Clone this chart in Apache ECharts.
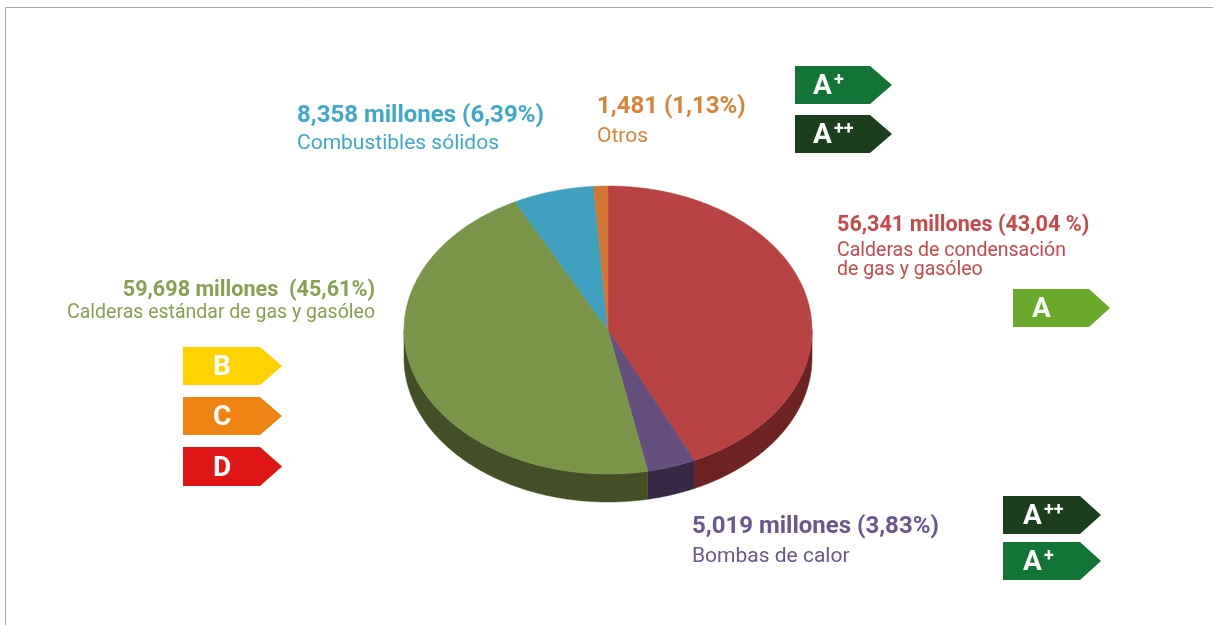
<!DOCTYPE html>
<html><head><meta charset="utf-8">
<script src="https://cdn.jsdelivr.net/npm/echarts@6/dist/echarts.min.js"></script>
<style>html,body{margin:0;padding:0;background:#fff}#c{width:1213px;height:625px}</style>
</head><body><div id="c"></div>
<script>
// ---- data ----
const categories = ['Calderas de condensación de gas y gasóleo', 'Bombas de calor', 'Calderas estándar de gas y gasóleo', 'Combustibles sólidos', 'Otros'];
const values = [56341, 5019, 59698, 8358, 1481];
const valueLabels = ['56,341 millones (43,04 %)', '5,019 millones (3,83%)', '59,698 millones  (45,61%)', '8,358 millones (6,39%)', '1,481 (1,13%)'];
const nameLabels = ['Calderas de condensación\nde gas y gasóleo', 'Bombas de calor', 'Calderas estándar de gas y gasóleo', 'Combustibles sólidos', 'Otros'];
const tagLetters = ['A', 'A', 'A', 'A', 'A', 'B', 'C', 'D'];
const tagSups = ['+', '++', '', '++', '+', '', '', ''];

// ---- styles / layout ----
const topColors = ['#B94343', '#644F7F', '#7A9448', '#3FA0BF', '#D27632'];
const sideColors = ['#6E2323', '#382846', '#435026', '#25657A', '#8A4A1E'];
const textColors = ['#C9484A', '#6B578F', '#87A152', '#3FA8CB', '#DA8338'];
const labelPos = [ // [x, yValue, yName, align, valueSize, nameSize]
  [837, 226, 261, 'left', 21.6, 19.5],
  [692, 527, 557, 'left', 24, 21],
  [375, 291, 313, 'right', 21.6, 19.5],
  [297, 116, 144, 'left', 24, 21],
  [597, 107, 137, 'left', 24, 21]
];
const tagBoxes = [ // [left, top, bottom, rectRight, tip, color, letterX]
  [795, 66, 104, 870, 892, '#127535', 813],
  [795, 115, 153, 870, 892, '#1B3F1C', 813],
  [1013, 289, 327, 1089, 1110, '#6AAA2A', 1032],
  [1003, 496, 534, 1080, 1101, '#1B3F1C', 1023],
  [1003, 542, 580, 1080, 1101, '#127535', 1023],
  [183, 347, 385, 260, 282, '#FFD200', 213],
  [183, 397, 435, 260, 282, '#F08412', 213],
  [183, 447, 486, 260, 282, '#DF1616', 213]
];

const CX = 608, CY = 330, RX = 204, RY = 144, DEPTH = 28;
const total = values.reduce((a, b) => a + b, 0);
const starts = [];
let acc = 0;
values.forEach(v => { starts.push(acc / total * 2 * Math.PI); acc += v; });
function pt(t, dy) { return [CX + RX * Math.sin(t), CY - RY * Math.cos(t) + dy]; }

function renderItem(params, api) {
  const i = params.dataIndex;
  const v = api.value(0);
  const a0 = starts[i], a1 = a0 + v / total * 2 * Math.PI;
  const children = [];
  const s0 = Math.max(a0, Math.PI / 2), s1 = Math.min(a1, 1.5 * Math.PI);
  if (s1 > s0) {
    const pts = [];
    const n = Math.max(2, Math.ceil((s1 - s0) / 0.01));
    for (let k = 0; k <= n; k++) pts.push(pt(s0 + (s1 - s0) * k / n, 0));
    for (let k = n; k >= 0; k--) pts.push(pt(s0 + (s1 - s0) * k / n, DEPTH));
    children.push({ type: 'polygon', shape: { points: pts }, style: { fill: sideColors[i], stroke: sideColors[i], lineWidth: 0.5 } });
  }
  const top = [[CX, CY]];
  const n2 = Math.max(2, Math.ceil((a1 - a0) / 0.01));
  for (let k = 0; k <= n2; k++) top.push(pt(a0 + (a1 - a0) * k / n2, 0));
  children.push({ type: 'polygon', shape: { points: top }, style: { fill: topColors[i], stroke: topColors[i], lineWidth: 0.5 }, z2: 5 });
  return { type: 'group', children };
}

const graphics = [];
// frame
graphics.push({ type: 'polyline', shape: { points: [[5.5, 625], [5.5, 7.5], [1213, 7.5]] }, style: { stroke: '#A8A8A8', lineWidth: 1, fill: null } });
// labels
labelPos.forEach((p, i) => {
  graphics.push({ type: 'text', x: p[0], y: p[1], style: { text: valueLabels[i], fill: textColors[i], font: 'bold ' + p[4] + 'px Roboto', align: p[3], verticalAlign: 'middle', textAlign: p[3], textVerticalAlign: 'middle' } });
  graphics.push({ type: 'text', x: p[0], y: p[2], style: { text: nameLabels[i], fill: textColors[i], font: p[5] + 'px Roboto', lineHeight: 19, align: p[3], verticalAlign: 'middle', textAlign: p[3], textVerticalAlign: 'middle' } });
});
// energy tags
tagBoxes.forEach((b, i) => {
  const mid = (b[1] + b[2]) / 2;
  graphics.push({ type: 'polygon', shape: { points: [[b[0], b[1]], [b[3], b[1]], [b[4], mid], [b[3], b[2]], [b[0], b[2]]] }, style: { fill: b[5] } });
  graphics.push({ type: 'text', x: b[6], y: mid + 2, style: { text: tagLetters[i], fill: '#fff', font: 'bold 28px Roboto', align: 'left', verticalAlign: 'middle', textAlign: 'left', textVerticalAlign: 'middle' } });
  if (tagSups[i]) {
    graphics.push({ type: 'text', x: b[6] + 21, y: mid - 5, style: { text: tagSups[i], fill: '#fff', font: 'bold 18px Roboto', align: 'left', verticalAlign: 'middle', textAlign: 'left', textVerticalAlign: 'middle' } });
  }
});

const chart = echarts.init(document.getElementById('c'), null, { renderer: 'canvas' });
chart.setOption({
  animation: false,
  backgroundColor: '#fff',
  series: [{
    type: 'custom',
    coordinateSystem: 'none',
    renderItem: renderItem,
    data: values.map((v, i) => ({ value: [v], name: categories[i] }))
  }],
  graphic: { elements: graphics }
});
</script></body></html>
